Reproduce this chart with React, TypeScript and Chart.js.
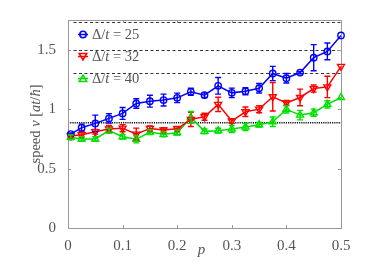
import React, { useEffect, useRef } from "react";
import { Chart, registerables } from "chart.js";

Chart.register(...registerables);

const pValues = [0.005, 0.025, 0.05, 0.075, 0.1, 0.125, 0.15, 0.175, 0.2, 0.225, 0.25, 0.275, 0.3, 0.325, 0.35, 0.375, 0.4, 0.425, 0.45, 0.475, 0.5];

const speed25 = [0.79, 0.844, 0.88, 0.922, 0.964, 1.048, 1.067, 1.076, 1.095, 1.146, 1.118, 1.196, 1.137, 1.151, 1.176, 1.3, 1.26, 1.308, 1.433, 1.486, 1.62];
const err25 = [0.01, 0.03, 0.07, 0.04, 0.05, 0.04, 0.05, 0.05, 0.04, 0.03, 0.02, 0.07, 0.04, 0.03, 0.04, 0.06, 0.04, 0.01, 0.11, 0.07, 0];

const speed32 = [0.774, 0.785, 0.81, 0.833, 0.84, 0.79, 0.838, 0.824, 0.835, 0.914, 0.936, 1.04, 0.9, 0.978, 1.0, 1.104, 1.053, 1.098, 1.173, 1.187, 1.36];
const err32 = [0.01, 0.02, 0.02, 0.03, 0.03, 0.05, 0.02, 0.02, 0.02, 0.06, 0.03, 0.06, 0.02, 0.04, 0.03, 0.12, 0.02, 0.07, 0.03, 0.09, 0];

const speed40 = [0.763, 0.749, 0.749, 0.819, 0.768, 0.746, 0.807, 0.788, 0.802, 0.93, 0.813, 0.819, 0.833, 0.85, 0.869, 0.894, 0.998, 0.95, 0.97, 1.04, 1.098];
const err40 = [0.02, 0.02, 0.02, 0.02, 0.02, 0.03, 0.02, 0.02, 0.02, 0.05, 0.02, 0.02, 0.03, 0.03, 0.02, 0.04, 0.03, 0.04, 0.03, 0.03, 0];

const seriesLabels = ["25", "32", "40"];
const seriesColors = ["#0000ff", "#ff0000", "#00e000"];

const dashedLevels = [1.73, 1.5, 1.3];
const dottedLevel = 0.885;

const xTicks = [0, 0.1, 0.2, 0.3, 0.4, 0.5];
const yTicks = [0, 0.5, 1, 1.5];

const SERIF = "'Liberation Serif', 'DejaVu Serif', serif";
const TEXT_COLOR = "#555";
const FRAME_COLOR = "#999";

const errorsByDataset = [err25, err32, err40];

type Seg = { t: string; it?: boolean };

function drawSegs(ctx: CanvasRenderingContext2D, segs: Seg[], size: number, x: number, y: number, align: "left" | "center") {
  let total = 0;
  const widths = segs.map((s) => {
    ctx.font = `${s.it ? "italic " : ""}${size}px ${SERIF}`;
    const w = ctx.measureText(s.t).width;
    total += w;
    return w;
  });
  let cx = align === "center" ? x - total / 2 : x;
  segs.forEach((s, i) => {
    ctx.font = `${s.it ? "italic " : ""}${size}px ${SERIF}`;
    ctx.fillText(s.t, cx, y);
    cx += widths[i];
  });
}

const decorPlugin = {
  id: "decor",
  beforeDatasetsDraw(chart: any) {
    const { ctx, chartArea: a, scales } = chart;
    const xs = scales.x;
    const ys = scales.y;
    ctx.save();
    ctx.strokeStyle = "#333";
    ctx.lineWidth = 1;
    ctx.setLineDash([3, 2.5]);
    dashedLevels.forEach((lv, i) => {
      const y = Math.round(ys.getPixelForValue(lv)) + 0.5;
      const x0 = i === 1 ? a.left : xs.getPixelForValue(0.01);
      ctx.beginPath();
      ctx.moveTo(x0, y);
      ctx.lineTo(a.right, y);
      ctx.stroke();
    });
    ctx.strokeStyle = "#111";
    ctx.lineWidth = 1.6;
    ctx.setLineDash([1.2, 1]);
    const yd = ys.getPixelForValue(dottedLevel);
    ctx.beginPath();
    ctx.moveTo(a.left, yd);
    ctx.lineTo(a.right, yd);
    ctx.stroke();
    ctx.setLineDash([]);
    ctx.strokeStyle = FRAME_COLOR;
    ctx.lineWidth = 1;
    ctx.strokeRect(Math.round(a.left) + 0.5, Math.round(a.top) + 0.5, Math.round(a.right - a.left), Math.round(a.bottom - a.top));
    const tl = 3;
    xTicks.forEach((v) => {
      const x = Math.round(xs.getPixelForValue(v)) + 0.5;
      ctx.beginPath();
      ctx.moveTo(x, a.bottom);
      ctx.lineTo(x, a.bottom - tl);
      ctx.moveTo(x, a.top);
      ctx.lineTo(x, a.top + tl);
      ctx.stroke();
    });
    yTicks.forEach((v) => {
      const y = Math.round(ys.getPixelForValue(v)) + 0.5;
      ctx.beginPath();
      ctx.moveTo(a.left, y);
      ctx.lineTo(a.left + tl, y);
      ctx.moveTo(a.right, y);
      ctx.lineTo(a.right - tl, y);
      ctx.stroke();
    });
    ctx.restore();
  },
  afterDatasetsDraw(chart: any) {
    const { ctx, scales } = chart;
    const xs = scales.x;
    const ys = scales.y;
    ctx.save();
    chart.data.datasets.forEach((ds: any, di: number) => {
      const errs = errorsByDataset[di];
      ctx.strokeStyle = ds.borderColor;
      ctx.lineWidth = 1.4;
      ds.data.forEach((pt: any, i: number) => {
        const e = errs[i];
        if (!e) return;
        const x = xs.getPixelForValue(pt.x);
        const y1 = ys.getPixelForValue(pt.y - e);
        const y2 = ys.getPixelForValue(pt.y + e);
        ctx.beginPath();
        ctx.moveTo(x, y1);
        ctx.lineTo(x, y2);
        ctx.moveTo(x - 3, y1);
        ctx.lineTo(x + 3, y1);
        ctx.moveTo(x - 3, y2);
        ctx.lineTo(x + 3, y2);
        ctx.stroke();
      });
    });
    ctx.restore();
  },
  afterDraw(chart: any) {
    const { ctx, chartArea: a } = chart;
    ctx.save();
    const rows = [34.5, 56.5, 78.5];
    const styles = ["circle", "triangleDown", "triangle"];
    rows.forEach((ry, i) => {
      const col = seriesColors[i];
      ctx.strokeStyle = col;
      ctx.lineWidth = 1.5;
      ctx.beginPath();
      ctx.moveTo(a.left + 10, ry);
      ctx.lineTo(a.left + 20, ry);
      ctx.stroke();
      ctx.beginPath();
      const cx = a.left + 15;
      if (styles[i] === "circle") {
        ctx.arc(cx, ry, 3.2, 0, Math.PI * 2);
      } else if (styles[i] === "triangleDown") {
        ctx.moveTo(cx - 3.8, ry - 3);
        ctx.lineTo(cx + 3.8, ry - 3);
        ctx.lineTo(cx, ry + 3.5);
        ctx.closePath();
      } else {
        ctx.moveTo(cx - 3.8, ry + 3);
        ctx.lineTo(cx + 3.8, ry + 3);
        ctx.lineTo(cx, ry - 3.5);
        ctx.closePath();
      }
      ctx.stroke();
      ctx.fillStyle = TEXT_COLOR;
      ctx.textBaseline = "middle";
      ctx.textAlign = "left";
      drawSegs(ctx, [{ t: "Δ/" }, { t: "t", it: true }, { t: " = " + seriesLabels[i] }], 14.5, a.left + 24, ry + 1, "left");
    });
    ctx.fillStyle = TEXT_COLOR;
    ctx.textBaseline = "middle";
    ctx.textAlign = "left";
    drawSegs(ctx, [{ t: "p", it: true }], 15, (a.left + a.right) / 2 - 3, 250, "center");
    ctx.save();
    ctx.translate(36, (a.top + a.bottom) / 2);
    ctx.rotate(-Math.PI / 2);
    drawSegs(
      ctx,
      [{ t: "speed " }, { t: "v", it: true }, { t: " [" }, { t: "at", it: true }, { t: "/" }, { t: "ħ", it: true }, { t: "]" }],
      14.5,
      0,
      0,
      "center"
    );
    ctx.restore();
    ctx.restore();
  },
};

export default function App() {
  const canvasRef = useRef<HTMLCanvasElement | null>(null);

  useEffect(() => {
    if (!canvasRef.current) return;
    const mk = (vals: number[]) => pValues.map((p, i) => ({ x: p, y: vals[i] }));
    const base = {
      borderWidth: 1.5,
      pointBorderWidth: 1.4,
      backgroundColor: "rgba(0,0,0,0)",
      pointBackgroundColor: "rgba(0,0,0,0)",
      clip: false as any,
      tension: 0,
    };
    const chart = new Chart(canvasRef.current, {
      type: "line",
      data: {
        datasets: [
          { ...base, label: "Δ/t = " + seriesLabels[0], data: mk(speed25), borderColor: seriesColors[0], pointBorderColor: seriesColors[0], pointStyle: "circle", pointRadius: 3.2 },
          { ...base, label: "Δ/t = " + seriesLabels[1], data: mk(speed32), borderColor: seriesColors[1], pointBorderColor: seriesColors[1], pointStyle: "triangle", pointRotation: 180, pointRadius: 4 },
          { ...base, label: "Δ/t = " + seriesLabels[2], data: mk(speed40), borderColor: seriesColors[2], pointBorderColor: seriesColors[2], pointStyle: "triangle", pointRadius: 4 },
        ],
      },
      options: {
        animation: false,
        responsive: true,
        maintainAspectRatio: false,
        layout: { padding: { top: 20, right: 33, left: 0, bottom: 0 } },
        plugins: { legend: { display: false }, tooltip: { enabled: false } },
        scales: {
          x: {
            type: "linear",
            min: 0,
            max: 0.5,
            grid: { display: false },
            border: { display: false },
            afterBuildTicks: (s: any) => {
              s.ticks = xTicks.map((v) => ({ value: v }));
            },
            afterFit: (s: any) => {
              s.height = 36;
            },
            ticks: {
              padding: 1,
              color: TEXT_COLOR,
              font: { family: SERIF, size: 15 },
              callback: (v: any) => String(Number(v)),
            },
          },
          y: {
            type: "linear",
            min: 0,
            max: 1.75,
            grid: { display: false },
            border: { display: false },
            afterBuildTicks: (s: any) => {
              s.ticks = yTicks.map((v) => ({ value: v }));
            },
            afterFit: (s: any) => {
              s.width = 68;
            },
            ticks: {
              padding: 4,
              color: TEXT_COLOR,
              font: { family: SERIF, size: 15 },
              callback: (v: any) => String(Number(v)),
            },
          },
        },
      },
      plugins: [decorPlugin],
    });
    return () => chart.destroy();
  }, []);

  return (
    <div style={{ position: "fixed", left: 0, top: 0, width: 374, height: 264, background: "#fff" }}>
      <canvas ref={canvasRef} />
    </div>
  );
}
